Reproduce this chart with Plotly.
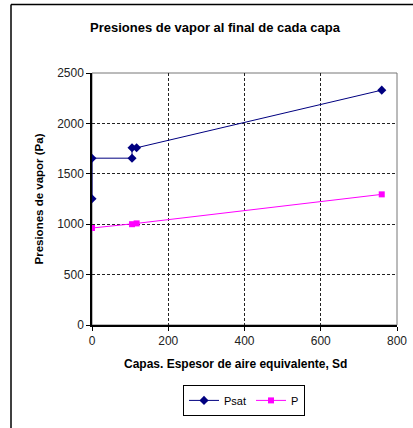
import plotly.graph_objects as go

sd_psat = [0, 0, 105, 105, 117, 760]
psat = [1252, 1655, 1655, 1758, 1758, 2330]
sd_p = [0, 0, 105, 117, 760]
p = [962, 962, 1000, 1008, 1296]

x_ticks = [0, 200, 400, 600, 800]
y_ticks = [0, 500, 1000, 1500, 2000, 2500]

font = "Liberation Sans, Arial, sans-serif"

L, R, T, B = 92, 16, 73, 101
W, H = 413, 428
pw, ph = W - L - R, H - T - B

fig = go.Figure()
fig.add_trace(go.Scatter(x=sd_psat, y=psat, mode="lines+markers", name="Psat",
                         line=dict(color="#000080", width=1),
                         marker=dict(symbol="diamond", size=7, color="#000080")))
fig.add_trace(go.Scatter(x=sd_p, y=p, mode="lines+markers", name="P",
                         line=dict(color="#FF00FF", width=1),
                         marker=dict(symbol="square", size=6, color="#FF00FF")))

fig.update_layout(
    width=W, height=H,
    margin=dict(l=L, r=R, t=T, b=B),
    paper_bgcolor="white", plot_bgcolor="white",
    font=dict(family=font, size=11, color="#222"),
    title=dict(text="<b>Presiones de vapor al final de cada capa</b>",
               x=215/W, xanchor="center", y=1-27/H, yanchor="middle",
               font=dict(size=13, color="black")),
    showlegend=True,
    legend=dict(orientation="h", x=(244-L)/pw, xanchor="center", y=(H-B-403)/ph, yanchor="middle",
                bordercolor="black", borderwidth=1, bgcolor="white",
                font=dict(size=11, color="black"), itemwidth=30, tracegroupgap=0),
    xaxis=dict(range=[0, 800], tickvals=x_ticks, ticktext=[str(v) for v in x_ticks],
               showgrid=True, gridcolor="#222", griddash="3px,2px", gridwidth=1,
               showline=True, linecolor="black", linewidth=1.5,
               ticks="outside", ticklen=4, tickcolor="black", automargin=False,
               zeroline=False, tickfont=dict(size=12, color="#222")),
    yaxis=dict(range=[0, 2500], tickvals=y_ticks, ticktext=[str(v) for v in y_ticks],
               showgrid=True, gridcolor="#222", griddash="3px,2px", gridwidth=1,
               showline=True, linecolor="black", linewidth=1.5,
               ticks="outside", ticklen=4, tickcolor="black", automargin=False,
               zeroline=False, tickfont=dict(size=12, color="#222"),
               title=dict(text="<b>Presiones de vapor (Pa)</b>",
                          font=dict(size=11.5, color="black"), standoff=11)),
)

fig.add_annotation(text="<b>Capas. Espesor de aire equivalente, Sd</b>",
                   xref="paper", yref="paper", x=(235-L)/pw, y=(H-B-366)/ph,
                   xanchor="center", yanchor="middle", showarrow=False,
                   font=dict(size=12, color="black", family=font))

# plot area frame (top/right in gray)
fig.add_shape(type="rect", xref="paper", yref="paper", x0=0, x1=1, y0=0, y1=1,
              line=dict(color="#777", width=1), layer="below")
# chart outer border
bx = (11 - L) / pw
by = (H - B - 4) / ph
fig.add_shape(type="line", xref="paper", yref="paper", x0=bx, x1=bx, y0=-2, y1=by,
              line=dict(color="black", width=1.5))
fig.add_shape(type="line", xref="paper", yref="paper", x0=bx, x1=2, y0=by, y1=by,
              line=dict(color="black", width=1.5))

fig.write_html("out.html", config={"displayModeBar": False},
               post_script="document.body.style.margin='0';")
